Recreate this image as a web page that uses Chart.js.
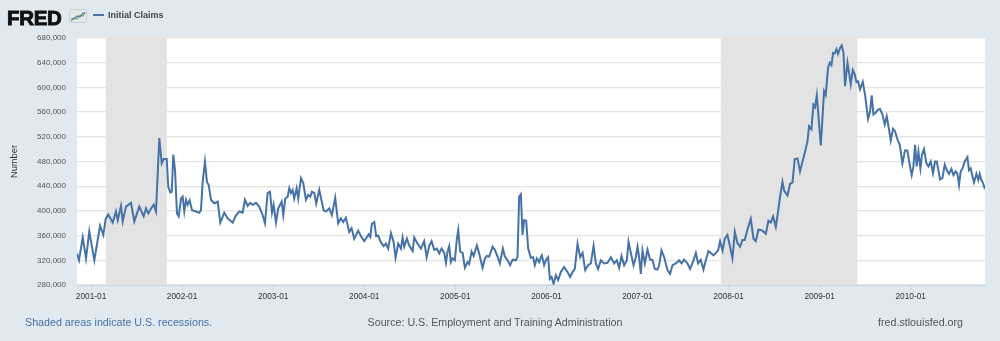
<!DOCTYPE html>
<html>
<head>
<meta charset="utf-8">
<script src="https://cdn.jsdelivr.net/npm/chart.js@4"></script>
<style>
html, body { margin: 0; padding: 0; background: #e1e9f0; }
#wrap { position: relative; width: 1000px; height: 341px; overflow: hidden; font-family: "Liberation Sans", Arial, sans-serif; }
canvas { position: absolute; left: 0; top: 0; }
.txt { position: absolute; line-height: 1; white-space: nowrap; }
</style>
</head>
<body>
<div id="wrap">
  <canvas id="chart" width="1000" height="341"></canvas>
  <div class="txt" style="left:7px;top:5.5px;font:bold 20.5px 'Liberation Sans';letter-spacing:-0.3px;color:#111;-webkit-text-stroke:0.9px #111;">FRED</div>
  <svg style="position:absolute;left:69px;top:9px" width="18" height="14" viewBox="0 0 18 14">
    <rect x="0.5" y="0.5" width="17" height="13" rx="1" fill="#e4e7ea" stroke="#c9ced3"/>
    <polyline points="2,12 5,9 8,10 11,6 14,7 16,3" fill="none" stroke="#7ab648" stroke-width="1.2"/>
    <polyline points="2,10 5,10 8,7 11,8 14,4 16,4" fill="none" stroke="#4a7ab3" stroke-width="1.2"/>
  </svg>
  <div style="position:absolute;left:93px;top:14px;width:11px;height:2px;background:#4572a7"></div>
  <div class="txt" style="left:108px;top:10.6px;font-weight:bold;font-size:9px;color:#444;">Initial Claims</div>
  <div class="txt" style="left:25px;top:316.5px;font-size:10.7px;color:#4572a7;">Shaded areas indicate U.S. recessions.</div>
  <div class="txt" style="left:0;width:990px;text-align:center;top:316.5px;font-size:10.7px;color:#555;">Source: U.S. Employment and Training Administration</div>
  <div class="txt" style="right:37px;top:316.5px;font-size:10.7px;color:#555;">fred.stlouisfed.org</div>
</div>
<script>
// week positions as decimal years
const t = [
  2000.846,2000.868,2000.909,2000.945,2000.981,2001.036,2001.099,2001.135,2001.161,2001.190,
  2001.238,2001.274,2001.293,2001.329,2001.348,2001.384,2001.439,2001.475,2001.530,2001.578,
  2001.604,2001.629,2001.659,2001.688,2001.713,2001.750,2001.776,2001.798,2001.831,2001.848,
  2001.870,2001.886,2001.903,2001.922,2001.944,2001.963,2001.988,2002.006,2002.024,2002.043,
  2002.061,2002.083,2002.109,2002.152,2002.189,2002.207,2002.226,2002.251,2002.273,2002.292,
  2002.317,2002.353,2002.391,2002.419,2002.463,2002.500,2002.555,2002.592,2002.628,2002.665,
  2002.690,2002.720,2002.748,2002.775,2002.811,2002.847,2002.885,2002.910,2002.939,2002.965,
  2002.987,2003.005,2003.031,2003.056,2003.093,2003.111,2003.133,2003.159,2003.177,2003.195,
  2003.214,2003.231,2003.258,2003.275,2003.305,2003.330,
  2003.360,2003.385,2003.407,2003.426,2003.451,2003.473,2003.506,2003.554,2003.579,2003.616,
  2003.645,2003.681,2003.714,2003.744,2003.769,2003.799,2003.835,2003.861,2003.890,2003.934,
  2003.964,2004.000,2004.026,2004.048,2004.066,2004.084,2004.110,2004.131,2004.153,2004.183,
  2004.213,2004.238,2004.263,2004.293,2004.322,2004.344,2004.373,2004.403,2004.421,2004.439,
  2004.468,2004.494,2004.531,2004.549,2004.586,2004.622,2004.658,2004.685,2004.713,2004.740,
  2004.768,2004.798,2004.823,2004.849,2004.878,2004.897,2004.915,2004.933,2004.951,2004.970,
  2004.995,2005.017,2005.032,2005.054,2005.080,2005.105,2005.135,2005.152,2005.179,2005.201,
  2005.237,2005.262,2005.299,2005.325,2005.347,2005.372,2005.409,2005.434,2005.464,2005.489,
  2005.522,2005.544,2005.574,2005.602,2005.629,2005.665,2005.683,2005.701,2005.720,2005.738,
  2005.756,2005.778,2005.800,2005.829,2005.855,2005.873,2005.895,2005.921,2005.939,
  2005.950,2005.975,2005.994,2006.019,2006.038,2006.057,2006.079,2006.104,2006.129,2006.159,
  2006.195,2006.232,2006.261,2006.287,2006.312,2006.342,2006.371,2006.397,2006.426,2006.458,
  2006.488,2006.518,2006.543,2006.568,2006.598,2006.634,2006.671,2006.708,2006.744,2006.773,
  2006.799,2006.825,2006.854,2006.883,2006.902,2006.927,2006.957,2006.982,2007.001,2007.018,
  2007.037,2007.055,2007.081,2007.110,2007.139,2007.165,2007.190,2007.220,2007.238,2007.264,
  2007.293,2007.330,2007.358,2007.385,2007.421,2007.457,2007.484,2007.512,2007.549,2007.578,
  2007.615,2007.641,2007.666,2007.695,2007.725,2007.750,2007.780,2007.805,2007.835,2007.860,
  2007.885,2007.907,2007.934,2007.959,2007.988,2008.014,2008.043,2008.069,2008.098,2008.127,
  2008.153,2008.178,2008.208,2008.244,2008.274,2008.299,2008.329,2008.373,2008.409,2008.438,
  2008.464,
  2008.489,2008.519,2008.544,2008.566,2008.592,2008.610,2008.647,2008.676,2008.702,2008.727,
  2008.757,2008.785,2008.812,2008.837,2008.867,2008.884,2008.910,2008.932,2008.950,2008.969,
  2009.013,2009.049,2009.067,2009.093,2009.111,2009.130,2009.148,2009.166,2009.185,2009.202,
  2009.224,2009.243,2009.262,2009.279,2009.306,2009.323,2009.342,2009.364,2009.386,2009.404,
  2009.422,2009.444,2009.474,2009.499,2009.532,2009.554,2009.572,2009.591,2009.616,2009.641,
  2009.663,2009.690,2009.715,2009.737,2009.762,2009.781,2009.806,2009.828,2009.854,2009.880,
  2009.909,2009.938,2009.964,2009.989,2010.011,2010.030,2010.048,2010.066,2010.085,2010.107,
  2010.124,2010.146,2010.173,2010.195,2010.220,2010.245,2010.267,2010.286,2010.304,2010.322,
  2010.348,2010.374,2010.396,2010.421,2010.447,2010.469,2010.494,2010.513,2010.531,2010.549,
  2010.568,2010.593,2010.623,2010.640,2010.659,2010.678,2010.695,2010.722,2010.743,2010.758,
  2010.776,2010.794,2010.816
];

// initial claims, thousands
const claims = [
  331,320,357,323,367,320,376,361,387,394,
  381,399,385,408,383,407,413,383,407,391,
  404,396,404,410,399,518,477,484,484,439,
  430,431,491,466,396,391,420,423,399,418,
  410,417,401,399,397,401,447,480,447,442,
  418,412,415,381,397,388,381,393,399,397,
  418,408,413,410,413,407,393,380,429,431,
  397,410,381,404,415,393,420,423,437,429,
  434,420,437,420,453,445,
  418,426,423,431,429,412,434,401,399,404,
  393,421,380,388,382,389,366,372,355,368,
  359,351,357,362,358,379,382,359,360,349,
  343,347,339,364,350,324,347,339,357,342,
  355,344,335,357,347,339,351,325,343,351,
  337,339,331,339,332,316,334,343,317,323,
  320,355,369,334,332,308,317,314,334,327,
  344,331,308,323,327,326,342,337,326,315,
  339,326,320,312,321,320,326,423,427,361,
  385,384,339,324,325,312,323,317,325,
  328,312,320,325,290,293,282,296,288,301,
  309,301,293,301,306,347,325,332,304,312,
  315,343,315,306,320,315,316,325,315,320,
  308,327,312,320,350,332,312,325,342,325,
  298,336,315,337,321,321,306,305,312,336,
  325,304,298,312,315,320,315,321,315,306,
  320,332,315,321,305,320,335,332,328,332,
  336,351,336,355,361,344,323,366,348,342,
  353,353,370,387,355,351,370,368,363,384,
  381,
  391,374,399,423,447,433,425,444,446,484,
  485,464,480,494,513,537,532,572,568,587,
  506,594,588,632,640,636,656,655,662,654,
  664,668,656,602,640,624,605,628,621,609,
  610,597,609,588,549,561,587,556,559,564,
  565,556,540,553,532,514,533,529,516,507,
  477,498,498,475,458,472,507,472,496,469,
  491,500,477,472,480,461,480,480,466,451,
  453,475,466,460,468,458,464,460,442,464,
  468,480,487,466,469,456,446,460,450,460,
  450,445,435
];

const years = [2001, 2002, 2003, 2004, 2005, 2006, 2007, 2008, 2009, 2010];
const recessions = [['2001-03-01', '2001-11-01'], ['2007-12-01', '2009-06-01']];

function toYear(s) {
  const d = new Date(s + 'T00:00:00Z');
  const y = d.getUTCFullYear();
  const start = Date.UTC(y, 0, 1), end = Date.UTC(y + 1, 0, 1);
  return y + (d - start) / (end - start);
}

const shading = {
  id: 'shading',
  beforeDraw(chart) {
    const { ctx, chartArea: a } = chart;
    ctx.save();
    ctx.fillStyle = '#ffffff';
    ctx.fillRect(a.left, a.top, a.right - a.left, a.bottom - a.top);
    ctx.restore();
  },
  beforeDatasetsDraw(chart) {
    const { ctx, chartArea: a, scales: { x } } = chart;
    ctx.save();
    ctx.fillStyle = '#e3e3e3';
    recessions.forEach(([s, e]) => {
      const x0 = x.getPixelForValue(toYear(s));
      const x1 = x.getPixelForValue(toYear(e));
      ctx.fillRect(x0, a.top, x1 - x0, a.bottom - a.top);
    });
    ctx.restore();
  }
};

const ctx = document.getElementById('chart').getContext('2d');
const chart = new Chart(ctx, {
  type: 'line',
  data: {
    datasets: [{
      label: 'Initial Claims',
      data: t.map((x, i) => ({ x: x, y: claims[i] * 1000 })),
      borderColor: '#4572a7',
      borderWidth: 2,
      pointRadius: 0,
      fill: false,
      tension: 0
    }]
  },
  options: {
    responsive: false,
    devicePixelRatio: 1,
    animation: false,
    events: [],
    layout: { padding: { top: 38, right: 15, bottom: 36, left: 0 } },
    plugins: { legend: { display: false }, tooltip: { enabled: false } },
    scales: {
      x: {
        type: 'linear',
        bounds: 'data',
        min: t[0],
        max: t[t.length - 1],
        afterBuildTicks: s => { s.ticks = years.map(v => ({ value: v })); },
        afterFit: s => { s.height = 20; },
        ticks: {
          callback: v => v + '-01',
          autoSkip: false,
          maxRotation: 0,
          padding: 2,
          color: '#333',
          font: { family: 'Liberation Sans', size: 8.3 }
        },
        grid: { drawOnChartArea: false, drawTicks: true, tickLength: 5, color: '#ccd6eb' },
        border: { display: true, color: '#ccd6eb' }
      },
      y: {
        min: 280000,
        max: 680000,
        afterFit: s => { s.width = 77; },
        ticks: {
          stepSize: 40000,
          callback: v => v.toLocaleString('en-US'),
          padding: 11,
          color: '#555',
          font: { family: 'Liberation Sans', size: 8 }
        },
        grid: { color: '#e4e4e4', lineWidth: 1.3, drawTicks: false },
        border: { display: false },
        title: {
          display: true,
          text: 'Number',
          color: '#333',
          font: { family: 'Liberation Sans', size: 9.3 },
          padding: { top: 9, bottom: 0 }
        }
      }
    }
  },
  plugins: [shading]
});
</script>
</body>
</html>
